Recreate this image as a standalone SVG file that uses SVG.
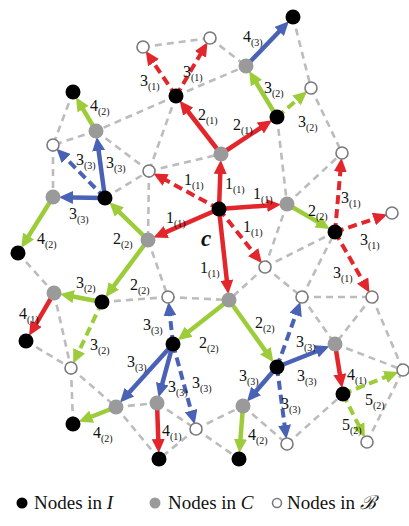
<svg xmlns="http://www.w3.org/2000/svg" width="409" height="526" viewBox="0 0 409 526">
<style>
.m{stroke:#bcbcbc;stroke-width:2.6;stroke-dasharray:7 5;fill:none}
.r{stroke:#e3262b;stroke-width:4.5;fill:none}
.g{stroke:#9dcc3a;stroke-width:4.5;fill:none}
.b{stroke:#4a62b5;stroke-width:4.5;fill:none}
.d{stroke-dasharray:9 5;stroke-width:4}
.I{fill:#000}
.C{fill:#9a9a9a}
.B{fill:#fff;stroke:#7a7a7a;stroke-width:1.6}
.s{font-size:10px}
</style>
<defs>
<marker id="ar" markerUnits="userSpaceOnUse" markerWidth="15" markerHeight="13" refX="1" refY="6.5" orient="auto"><path d="M0,0 L14,6.5 L0,13 z" fill="#e3262b"/></marker>
<marker id="ag" markerUnits="userSpaceOnUse" markerWidth="15" markerHeight="13" refX="1" refY="6.5" orient="auto"><path d="M0,0 L14,6.5 L0,13 z" fill="#9dcc3a"/></marker>
<marker id="ab" markerUnits="userSpaceOnUse" markerWidth="15" markerHeight="13" refX="1" refY="6.5" orient="auto"><path d="M0,0 L14,6.5 L0,13 z" fill="#4a62b5"/></marker>
</defs>
<g id="connectors">
<g id="mesh">
<line class="m" x1="143" y1="47" x2="210" y2="38"/>
<line class="m" x1="210" y1="38" x2="246" y2="66"/>
<line class="m" x1="176" y1="96" x2="246" y2="66"/>
<line class="m" x1="293" y1="17" x2="311" y2="88"/>
<line class="m" x1="311" y1="88" x2="342" y2="153"/>
<line class="m" x1="176" y1="96" x2="96" y2="131"/>
<line class="m" x1="176" y1="96" x2="149" y2="171"/>
<line class="m" x1="96" y1="131" x2="53" y2="145"/>
<line class="m" x1="73" y1="92" x2="53" y2="145"/>
<line class="m" x1="96" y1="131" x2="149" y2="171"/>
<line class="m" x1="53" y1="145" x2="53" y2="197"/>
<line class="m" x1="105" y1="198" x2="149" y2="171"/>
<line class="m" x1="149" y1="171" x2="221" y2="154"/>
<line class="m" x1="149" y1="171" x2="148" y2="240"/>
<line class="m" x1="18" y1="253" x2="54" y2="293"/>
<line class="m" x1="148" y1="240" x2="168" y2="297"/>
<line class="m" x1="102" y1="302" x2="168" y2="297"/>
<line class="m" x1="168" y1="297" x2="229" y2="300"/>
<line class="m" x1="54" y1="293" x2="71" y2="368"/>
<line class="m" x1="26" y1="341" x2="71" y2="368"/>
<line class="m" x1="71" y1="368" x2="116" y2="407"/>
<line class="m" x1="71" y1="368" x2="73" y2="424"/>
<line class="m" x1="116" y1="407" x2="157" y2="403"/>
<line class="m" x1="116" y1="407" x2="159" y2="459"/>
<line class="m" x1="157" y1="403" x2="196" y2="429"/>
<line class="m" x1="196" y1="429" x2="159" y2="459"/>
<line class="m" x1="196" y1="429" x2="243" y2="406"/>
<line class="m" x1="196" y1="429" x2="239" y2="459"/>
<line class="m" x1="243" y1="406" x2="287" y2="444"/>
<line class="m" x1="287" y1="444" x2="343" y2="394"/>
<line class="m" x1="367" y1="442" x2="403" y2="370"/>
<line class="m" x1="335" y1="344" x2="403" y2="370"/>
<line class="m" x1="302" y1="297" x2="335" y2="344"/>
<line class="m" x1="372" y1="297" x2="335" y2="344"/>
<line class="m" x1="372" y1="297" x2="403" y2="370"/>
<line class="m" x1="302" y1="297" x2="372" y2="297"/>
<line class="m" x1="265" y1="267" x2="302" y2="297"/>
<line class="m" x1="265" y1="267" x2="287" y2="204"/>
<line class="m" x1="265" y1="267" x2="335" y2="232"/>
<line class="m" x1="265" y1="267" x2="229" y2="300"/>
<line class="m" x1="302" y1="297" x2="335" y2="232"/>
<line class="m" x1="287" y1="204" x2="342" y2="153"/>
<line class="m" x1="277" y1="117" x2="287" y2="204"/>
</g>
<g id="arrows">
<line class="r" x1="219" y1="209" x2="220.3" y2="173" marker-end="url(#ar)"/>
<line class="r" x1="219" y1="209" x2="268.1" y2="205.4" marker-end="url(#ar)"/>
<line class="r" x1="219" y1="209" x2="165.4" y2="232.4" marker-end="url(#ar)"/>
<line class="r" x1="219" y1="209" x2="226.9" y2="281.1" marker-end="url(#ar)"/>
<line class="r" x1="221" y1="154" x2="187.6" y2="111" marker-end="url(#ar)"/>
<line class="r" x1="221" y1="154" x2="261.2" y2="127.5" marker-end="url(#ar)"/>
<line class="r" x1="54" y1="293" x2="35.6" y2="324.6" marker-end="url(#ar)"/>
<line class="r" x1="157" y1="403" x2="158.3" y2="440" marker-end="url(#ar)"/>
<line class="r" x1="335" y1="344" x2="340" y2="375.2" marker-end="url(#ar)"/>
<line class="r d" x1="219" y1="209" x2="164.8" y2="179.6" marker-end="url(#ar)"/>
<line class="r d" x1="219" y1="209" x2="253.8" y2="252.9" marker-end="url(#ar)"/>
<line class="r d" x1="176" y1="96" x2="153" y2="61.9" marker-end="url(#ar)"/>
<line class="r d" x1="176" y1="96" x2="200.9" y2="53.5" marker-end="url(#ar)"/>
<line class="r d" x1="335" y1="232" x2="340.4" y2="170.9" marker-end="url(#ar)"/>
<line class="r d" x1="335" y1="232" x2="374.9" y2="218.7" marker-end="url(#ar)"/>
<line class="r d" x1="335" y1="232" x2="363.1" y2="281.4" marker-end="url(#ar)"/>
<line class="g" x1="287" y1="204" x2="318.6" y2="222.4" marker-end="url(#ag)"/>
<line class="g" x1="148" y1="240" x2="118.6" y2="211.3" marker-end="url(#ag)"/>
<line class="g" x1="148" y1="240" x2="113.3" y2="286.7" marker-end="url(#ag)"/>
<line class="g" x1="277" y1="117" x2="255.9" y2="82.2" marker-end="url(#ag)"/>
<line class="g" x1="53" y1="197" x2="28.1" y2="236.9" marker-end="url(#ag)"/>
<line class="g" x1="96" y1="131" x2="82.6" y2="108.4" marker-end="url(#ag)"/>
<line class="g" x1="102" y1="302" x2="72.7" y2="296.5" marker-end="url(#ag)"/>
<line class="g" x1="229" y1="300" x2="187.9" y2="332.3" marker-end="url(#ag)"/>
<line class="g" x1="229" y1="300" x2="265.9" y2="351.6" marker-end="url(#ag)"/>
<line class="g" x1="116" y1="407" x2="90.7" y2="417" marker-end="url(#ag)"/>
<line class="g" x1="243" y1="406" x2="240.4" y2="440.1" marker-end="url(#ag)"/>
<line class="g d" x1="277" y1="117" x2="297.3" y2="99.7" marker-end="url(#ag)"/>
<line class="g d" x1="102" y1="302" x2="78.7" y2="351.7" marker-end="url(#ag)"/>
<line class="g d" x1="343" y1="394" x2="386.3" y2="376.7" marker-end="url(#ag)"/>
<line class="g d" x1="343" y1="394" x2="359" y2="425.9" marker-end="url(#ag)"/>
<line class="b" x1="246" y1="66" x2="279.9" y2="30.7" marker-end="url(#ab)"/>
<line class="b" x1="105" y1="198" x2="98.5" y2="149.8" marker-end="url(#ab)"/>
<line class="b" x1="105" y1="198" x2="72" y2="197.4" marker-end="url(#ab)"/>
<line class="b" x1="173" y1="344" x2="128.7" y2="392.9" marker-end="url(#ab)"/>
<line class="b" x1="173" y1="344" x2="162" y2="384.6" marker-end="url(#ab)"/>
<line class="b" x1="277" y1="367" x2="317.3" y2="351" marker-end="url(#ab)"/>
<line class="b" x1="277" y1="367" x2="255.5" y2="391.7" marker-end="url(#ab)"/>
<line class="b d" x1="105" y1="198" x2="65.6" y2="157.9" marker-end="url(#ab)"/>
<line class="b d" x1="173" y1="344" x2="169.9" y2="314.9" marker-end="url(#ab)"/>
<line class="b d" x1="173" y1="344" x2="191.3" y2="411.6" marker-end="url(#ab)"/>
<line class="b d" x1="277" y1="367" x2="296" y2="314" marker-end="url(#ab)"/>
<line class="b d" x1="277" y1="367" x2="284.7" y2="426.1" marker-end="url(#ab)"/>
</g>
<g id="labels" font-family="'Liberation Serif', 'Times New Roman', serif" font-size="16" fill="#111">
<text x="225" y="189">1<tspan class="s" dy="4">(1)</tspan></text>
<text x="253" y="199">1<tspan class="s" dy="4">(1)</tspan></text>
<text x="166" y="223">1<tspan class="s" dy="4">(1)</tspan></text>
<text x="200" y="273">1<tspan class="s" dy="4">(1)</tspan></text>
<text x="184" y="185">1<tspan class="s" dy="4">(1)</tspan></text>
<text x="243" y="232">1<tspan class="s" dy="4">(1)</tspan></text>
<text x="198" y="120">2<tspan class="s" dy="4">(1)</tspan></text>
<text x="233" y="130">2<tspan class="s" dy="4">(1)</tspan></text>
<text x="19" y="319">4<tspan class="s" dy="4">(1)</tspan></text>
<text x="162" y="436">4<tspan class="s" dy="4">(1)</tspan></text>
<text x="347" y="380">4<tspan class="s" dy="4">(1)</tspan></text>
<text x="140" y="86">3<tspan class="s" dy="4">(1)</tspan></text>
<text x="183" y="77">3<tspan class="s" dy="4">(1)</tspan></text>
<text x="341" y="203">3<tspan class="s" dy="4">(1)</tspan></text>
<text x="360" y="245">3<tspan class="s" dy="4">(1)</tspan></text>
<text x="333" y="278">3<tspan class="s" dy="4">(1)</tspan></text>
<text x="308" y="216">2<tspan class="s" dy="4">(2)</tspan></text>
<text x="113" y="244">2<tspan class="s" dy="4">(2)</tspan></text>
<text x="130" y="290">2<tspan class="s" dy="4">(2)</tspan></text>
<text x="264" y="93">3<tspan class="s" dy="4">(2)</tspan></text>
<text x="37" y="244">4<tspan class="s" dy="4">(2)</tspan></text>
<text x="90" y="111">4<tspan class="s" dy="4">(2)</tspan></text>
<text x="76" y="288">3<tspan class="s" dy="4">(2)</tspan></text>
<text x="199" y="348">2<tspan class="s" dy="4">(2)</tspan></text>
<text x="255" y="328">2<tspan class="s" dy="4">(2)</tspan></text>
<text x="93" y="438">4<tspan class="s" dy="4">(2)</tspan></text>
<text x="248" y="440">4<tspan class="s" dy="4">(2)</tspan></text>
<text x="298" y="127">3<tspan class="s" dy="4">(2)</tspan></text>
<text x="90" y="350">3<tspan class="s" dy="4">(2)</tspan></text>
<text x="365" y="405">5<tspan class="s" dy="4">(2)</tspan></text>
<text x="342" y="430">5<tspan class="s" dy="4">(2)</tspan></text>
<text x="243" y="42">4<tspan class="s" dy="4">(3)</tspan></text>
<text x="106" y="168">3<tspan class="s" dy="4">(3)</tspan></text>
<text x="69" y="219">3<tspan class="s" dy="4">(3)</tspan></text>
<text x="127" y="367">3<tspan class="s" dy="4">(3)</tspan></text>
<text x="168" y="392">3<tspan class="s" dy="4">(3)</tspan></text>
<text x="296" y="347">3<tspan class="s" dy="4">(3)</tspan></text>
<text x="297" y="381">3<tspan class="s" dy="4">(3)</tspan></text>
<text x="239" y="381">3<tspan class="s" dy="4">(3)</tspan></text>
<text x="76" y="165">3<tspan class="s" dy="4">(3)</tspan></text>
<text x="143" y="330">3<tspan class="s" dy="4">(3)</tspan></text>
<text x="192" y="388">3<tspan class="s" dy="4">(3)</tspan></text>
<text x="281" y="409">3<tspan class="s" dy="4">(3)</tspan></text>
<text x="201" y="246" font-size="23" font-weight="bold" font-style="italic">c</text>
</g>
</g>
<g id="c"><circle class="I" cx="219" cy="209" r="7.5"/></g>
<g id="nI1"><circle class="I" cx="176" cy="96" r="7.5"/></g>
<g id="nI2"><circle class="I" cx="277" cy="117" r="7.5"/></g>
<g id="nI3"><circle class="I" cx="293" cy="17" r="7.5"/></g>
<g id="nI4"><circle class="I" cx="73" cy="92" r="7.5"/></g>
<g id="nI5"><circle class="I" cx="105" cy="198" r="7.5"/></g>
<g id="nI6"><circle class="I" cx="18" cy="253" r="7.5"/></g>
<g id="nI7"><circle class="I" cx="102" cy="302" r="7.5"/></g>
<g id="nI8"><circle class="I" cx="26" cy="341" r="7.5"/></g>
<g id="nI9"><circle class="I" cx="173" cy="344" r="7.5"/></g>
<g id="nI10"><circle class="I" cx="73" cy="424" r="7.5"/></g>
<g id="nI11"><circle class="I" cx="159" cy="459" r="7.5"/></g>
<g id="nI12"><circle class="I" cx="335" cy="232" r="7.5"/></g>
<g id="nI13"><circle class="I" cx="277" cy="367" r="7.5"/></g>
<g id="nI14"><circle class="I" cx="343" cy="394" r="7.5"/></g>
<g id="nI15"><circle class="I" cx="239" cy="459" r="7.5"/></g>
<g id="nC1"><circle class="C" cx="221" cy="154" r="7.5"/></g>
<g id="nC2"><circle class="C" cx="246" cy="66" r="7.5"/></g>
<g id="nC3"><circle class="C" cx="96" cy="131" r="7.5"/></g>
<g id="nC4"><circle class="C" cx="53" cy="197" r="7.5"/></g>
<g id="nC5"><circle class="C" cx="148" cy="240" r="7.5"/></g>
<g id="nC6"><circle class="C" cx="287" cy="204" r="7.5"/></g>
<g id="nC7"><circle class="C" cx="54" cy="293" r="7.5"/></g>
<g id="nC8"><circle class="C" cx="229" cy="300" r="7.5"/></g>
<g id="nC9"><circle class="C" cx="116" cy="407" r="7.5"/></g>
<g id="nC10"><circle class="C" cx="157" cy="403" r="7.5"/></g>
<g id="nC11"><circle class="C" cx="243" cy="406" r="7.5"/></g>
<g id="nC12"><circle class="C" cx="335" cy="344" r="7.5"/></g>
<g id="nB1"><circle class="B" cx="143" cy="47" r="6"/></g>
<g id="nB2"><circle class="B" cx="210" cy="38" r="6"/></g>
<g id="nB3"><circle class="B" cx="311" cy="88" r="6"/></g>
<g id="nB4"><circle class="B" cx="342" cy="153" r="6"/></g>
<g id="nB5"><circle class="B" cx="53" cy="145" r="6"/></g>
<g id="nB6"><circle class="B" cx="149" cy="171" r="6"/></g>
<g id="nB7"><circle class="B" cx="392" cy="213" r="6"/></g>
<g id="nB8"><circle class="B" cx="265" cy="267" r="6"/></g>
<g id="nB9"><circle class="B" cx="302" cy="297" r="6"/></g>
<g id="nB10"><circle class="B" cx="372" cy="297" r="6"/></g>
<g id="nB11"><circle class="B" cx="168" cy="297" r="6"/></g>
<g id="nB12"><circle class="B" cx="71" cy="368" r="6"/></g>
<g id="nB13"><circle class="B" cx="196" cy="429" r="6"/></g>
<g id="nB14"><circle class="B" cx="403" cy="370" r="6"/></g>
<g id="nB15"><circle class="B" cx="287" cy="444" r="6"/></g>
<g id="nB16"><circle class="B" cx="367" cy="442" r="6"/></g>
<g id="legend" font-family="'Liberation Serif', 'Times New Roman', serif" font-size="19" fill="#111">
<circle class="I" cx="22" cy="503" r="5.5"/>
<text x="34" y="509">Nodes in <tspan font-style="italic">I</tspan></text>
<circle class="C" cx="155" cy="503" r="5.5"/>
<text x="168" y="509">Nodes in <tspan font-style="italic">C</tspan></text>
<circle class="B" cx="277" cy="503" r="4.5"/>
<text x="287" y="509">Nodes in <tspan font-style="italic">ℬ</tspan></text>
</g>
</svg>
